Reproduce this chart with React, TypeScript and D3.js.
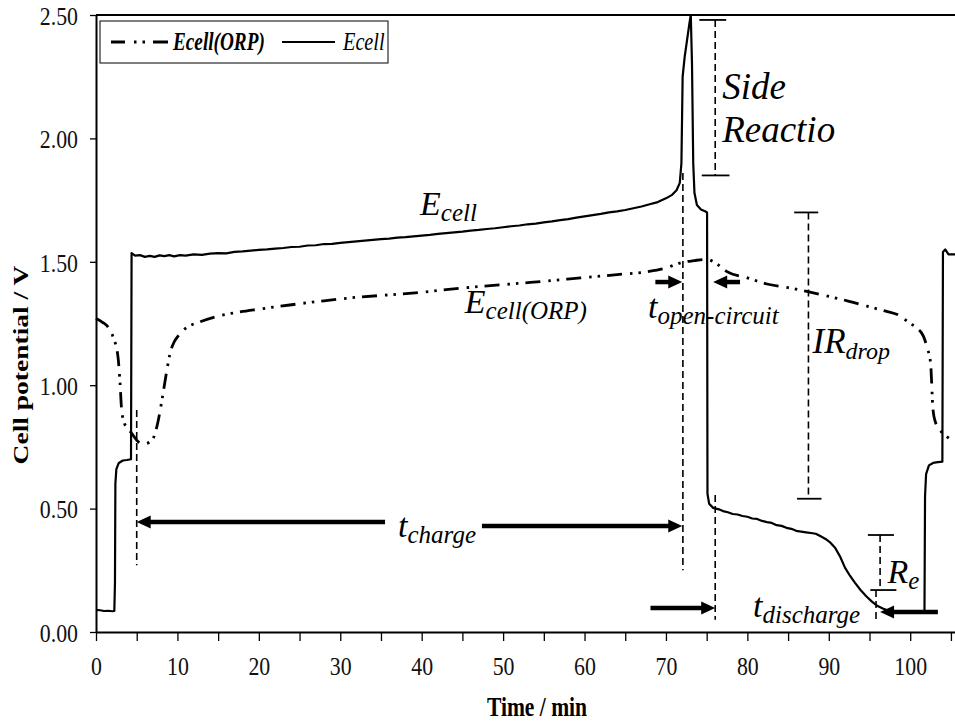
import { useEffect, useRef } from "react";
import * as d3 from "d3";

const WIDTH = 955;
const HEIGHT = 723;
const SERIF = "Liberation Serif";

// Ecell (solid) – time in min, potential in V
const timeEcell = [
  0, 0.5, 1.0, 1.5, 2.0, 2.25, 2.33, 2.38, 2.5, 2.8, 3.3, 3.8, 4.3, 4.37, 4.8, 5.4, 6, 6.6, 7.2, 7.8, 8.4, 9,
  9.6, 10.3, 11, 12, 13, 14, 15, 16, 17, 18, 19, 20, 21, 22, 23, 24, 25, 26, 27, 28, 29, 30, 31, 32, 33, 34,
  35, 36, 37, 38, 39, 40, 41, 42, 43, 44, 45, 46, 47, 48, 49, 50, 51, 52, 53, 54, 55, 56, 57, 58, 59, 60, 61,
  62, 63, 64, 65, 66, 67, 68, 69, 70, 70.7, 71.3, 71.7, 71.9, 72.05, 72.3, 72.6, 72.9, 73.05, 73.2, 73.35,
  73.5, 73.8, 74.3, 74.8, 75.05, 75.1, 75.3, 75.8, 76.5, 77, 77.6, 78.2, 78.8, 79.4, 80, 80.6, 81.2, 81.8,
  82.4, 83, 83.6, 84.2, 84.8, 85.4, 86, 86.6, 87.2, 87.8, 88.4, 89, 89.6, 90.2, 90.8, 91.4, 92, 92.6, 93.2,
  93.9, 94.6, 95.3, 96, 96.7, 97.4, 98, 99, 100, 101, 101.75, 101.82, 101.95, 102.3, 102.8, 103.4, 103.95,
  104.02, 104.3, 104.7, 105.5,
];
const ecell = [
  0.09, 0.088, 0.085, 0.086, 0.084, 0.085, 0.2, 0.6, 0.66, 0.685, 0.695, 0.697, 0.7, 1.535, 1.525, 1.527,
  1.52, 1.524, 1.52, 1.526, 1.523, 1.527, 1.522, 1.527, 1.525, 1.53, 1.528, 1.533, 1.535, 1.534, 1.54, 1.542,
  1.545, 1.548, 1.55, 1.553, 1.556, 1.56, 1.561, 1.566, 1.567, 1.572, 1.573, 1.577, 1.58, 1.583, 1.586,
  1.589, 1.592, 1.594, 1.598, 1.6, 1.603, 1.606, 1.609, 1.613, 1.616, 1.619, 1.622, 1.626, 1.629, 1.633,
  1.636, 1.64, 1.644, 1.647, 1.652, 1.655, 1.66, 1.664, 1.669, 1.673, 1.679, 1.684, 1.689, 1.694, 1.7,
  1.704, 1.71, 1.717, 1.724, 1.733, 1.742, 1.757, 1.77, 1.79, 1.82, 1.9, 2.25, 2.33, 2.4, 2.47, 2.5, 2.3,
  1.9, 1.78, 1.73, 1.712, 1.705, 1.7, 0.56, 0.52, 0.503, 0.497, 0.49, 0.485, 0.478, 0.476, 0.47, 0.467,
  0.46, 0.458, 0.45, 0.445, 0.442, 0.433, 0.43, 0.422, 0.418, 0.41, 0.407, 0.404, 0.401, 0.398, 0.388,
  0.377, 0.362, 0.34, 0.305, 0.26, 0.228, 0.2, 0.17, 0.145, 0.123, 0.105, 0.094, 0.086, 0.08, 0.079, 0.078,
  0.078, 0.078, 0.55, 0.64, 0.675, 0.685, 0.688, 0.69, 1.54, 1.55, 1.53, 1.53,
];

// Ecell(ORP) (dash-dot-dot)
const timeOrp = [
  0, 0.8, 1.5, 2.1, 2.7, 2.95, 3.15, 3.5, 3.8, 4.5, 5.2, 5.9, 6.6, 7.1, 7.6, 8.1, 8.7, 9.1, 9.6, 10.1, 11,
  12.8, 15, 17.7, 20, 23.8, 28, 32, 36, 39.2, 43, 47.2, 52, 56, 59.5, 64, 67.7, 70, 71.7, 73.5, 75, 76.3,
  77.5, 80, 82.4, 85, 87.3, 90, 92.5, 94.7, 97, 98.5, 100, 100.9, 101.6, 102.1, 102.5, 102.8, 103.1, 103.6,
  104.2, 105,
];
const ecellOrp = [
  1.27, 1.255, 1.235, 1.195, 1.115, 1.01, 0.9, 0.845, 0.83, 0.8, 0.77, 0.762, 0.77, 0.79, 0.85, 0.94, 1.06,
  1.13, 1.175, 1.2, 1.23, 1.257, 1.28, 1.297, 1.308, 1.325, 1.342, 1.356, 1.366, 1.374, 1.387, 1.4, 1.413,
  1.424, 1.435, 1.448, 1.46, 1.475, 1.495, 1.505, 1.51, 1.49, 1.46, 1.435, 1.41, 1.395, 1.38, 1.36, 1.34,
  1.32, 1.3, 1.285, 1.25, 1.23, 1.2, 1.15, 1.09, 0.9, 0.85, 0.82, 0.8, 0.78,
];

const yTicks = [0, 0.5, 1, 1.5, 2, 2.5];
const xTicks = [0, 5, 10, 15, 20, 25, 30, 35, 40, 45, 50, 55, 60, 65, 70, 75, 80, 85, 90, 95, 100, 105];
const xLabels = [0, 10, 20, 30, 40, 50, 60, 70, 80, 90, 100];

// annotations (data units)
const guides = [
  { t: 5.0, v0: 0.9, v1: 0.27 },
  { t: 72.08, v0: 1.86, v1: 0.25 },
  { t: 76.05, v0: 0.555, v1: 0.05 },
  { t: 95.8, v0: 0.17, v1: 0.036 },
];
const brackets = [
  { t: 76.05, v0: 2.48, v1: 1.85, top: [74.1, 77.4], bottom: [74.4, 77.8] },
  { t: 87.5, v0: 1.7, v1: 0.54, top: [85.75, 88.7], bottom: [86.1, 89.1] },
  { t: 96.3, v0: 0.393, v1: 0.17, top: [94.8, 98.0], bottom: [95.1, 98.3] },
];
const arrows = [
  { t0: 35.5, t1: 5.0, v: 0.446 },
  { t0: 47.4, t1: 72.0, v: 0.43 },
  { t0: 68.1, t1: 76.05, v: 0.097 },
  { t0: 103.4, t1: 96.3, v: 0.081 },
  { t0: 68.7, t1: 72.0, v: 1.418 },
  { t0: 79.1, t1: 75.8, v: 1.418 },
];
const labels = [
  { t: 39.8, v: 1.69, main: "E", sub: "cell", size: 34, subSize: 25 },
  { t: 45.3, v: 1.293, main: "E", sub: "cell(ORP)", size: 34, subSize: 25 },
  { t: 37.1, v: 0.385, main: "t", sub: "charge", size: 34, subSize: 25 },
  { t: 67.8, v: 1.272, main: "t", sub: "open-circuit", size: 34, subSize: 25 },
  { t: 88.0, v: 1.13, main: "IR", sub: "drop", size: 35, subSize: 24 },
  { t: 97.2, v: 0.199, main: "R", sub: "e", size: 34, subSize: 25 },
  { t: 80.7, v: 0.06, main: "t", sub: "discharge", size: 34, subSize: 25 },
  { t: 76.9, v: 2.16, main: "Side", sub: "", size: 37, subSize: 25 },
  { t: 76.9, v: 1.985, main: "Reactio", sub: "", size: 37, subSize: 25 },
];

const App = () => {
  const ref = useRef<SVGSVGElement>(null);

  useEffect(() => {
    const svg = d3.select(ref.current);
    svg.selectAll("*").remove();

    const x = d3.scaleLinear().domain([0, 105.5]).range([96, 955]);
    const y = d3.scaleLinear().domain([0, 2.5]).range([632, 15]);

    svg.append("rect").attr("width", WIDTH).attr("height", HEIGHT).attr("fill", "white");

    // top frame line
    svg
      .append("line")
      .attr("x1", x(0))
      .attr("x2", 955)
      .attr("y1", y(2.5))
      .attr("y2", y(2.5))
      .attr("stroke", "black")
      .attr("stroke-width", 2);

    // y axis
    const yAxis = svg
      .append("g")
      .attr("transform", `translate(${x(0)},0)`)
      .call(
        d3
          .axisLeft(y)
          .tickValues(yTicks)
          .tickSize(6)
          .tickSizeOuter(0)
          .tickFormat((d) => d3.format(".2f")(d as number))
      );
    yAxis.select(".domain").attr("stroke-width", 2);
    yAxis.selectAll(".tick line").attr("stroke-width", 1.3);
    yAxis
      .selectAll(".tick text")
      .attr("font-family", SERIF)
      .attr("font-size", 26)
      .attr("fill", "#111")
      .attr("x", -18 / 0.84)
      .attr("dy", "0.36em")
      .attr("transform", "scale(0.84,1)");

    // x axis
    const xAxis = svg
      .append("g")
      .attr("transform", `translate(0,${y(0)})`)
      .call(
        d3
          .axisBottom(x)
          .tickValues(xTicks)
          .tickSize(9)
          .tickSizeOuter(0)
          .tickPadding(15.5)
          .tickFormat((d) => (xLabels.includes(d as number) ? String(d) : ""))
      );
    xAxis.select(".domain").attr("stroke-width", 2);
    xAxis.selectAll(".tick line").attr("stroke-width", 1.3);
    xAxis
      .selectAll(".tick text")
      .attr("font-family", SERIF)
      .attr("font-size", 26)
      .attr("fill", "#111")
      .attr("transform", "scale(0.84,1)");

    // axis titles
    svg
      .append("text")
      .attr("transform", `translate(537,716) scale(0.77,1)`)
      .attr("text-anchor", "middle")
      .attr("font-family", SERIF)
      .attr("font-weight", "bold")
      .attr("font-size", 28)
      .text("Time / min");
    svg
      .append("text")
      .attr("transform", `translate(28,365) rotate(-90) scale(1,0.8)`)
      .attr("text-anchor", "middle")
      .attr("font-family", SERIF)
      .attr("font-weight", "bold")
      .attr("font-size", 27.5)
      .text("Cell potential / V");

    // series
    const ecellLine = d3
      .line<[number, number]>()
      .x((d) => x(d[0]))
      .y((d) => y(d[1]));
    const orpLine = d3
      .line<[number, number]>()
      .x((d) => x(d[0]))
      .y((d) => y(d[1]))
      .curve(d3.curveMonotoneX);

    const ecellData = timeEcell.map((t, i) => [t, ecell[i]] as [number, number]);
    const orpData = timeOrp.map((t, i) => [t, ecellOrp[i]] as [number, number]);

    const plot = svg.append("g");
    plot
      .append("path")
      .attr("d", orpLine(orpData))
      .attr("fill", "none")
      .attr("stroke", "black")
      .attr("stroke-width", 2.8)
      .attr("stroke-dasharray", "15 8 2.5 6 2.5 7");
    plot
      .append("path")
      .attr("d", ecellLine(ecellData))
      .attr("fill", "none")
      .attr("stroke", "black")
      .attr("stroke-width", 2.2)
      .attr("stroke-linejoin", "round");

    // dashed guide lines
    const ann = svg.append("g").attr("stroke", "black");
    ann
      .selectAll("line.guide")
      .data(guides)
      .join("line")
      .attr("class", "guide")
      .attr("x1", (d) => x(d.t))
      .attr("x2", (d) => x(d.t))
      .attr("y1", (d) => y(d.v0))
      .attr("y2", (d) => y(d.v1))
      .attr("stroke-width", 1.6)
      .attr("stroke-dasharray", "7 4");

    // brackets
    const br = ann.selectAll("g.bracket").data(brackets).join("g").attr("class", "bracket");
    br.append("line")
      .attr("x1", (d) => x(d.t))
      .attr("x2", (d) => x(d.t))
      .attr("y1", (d) => y(d.v0))
      .attr("y2", (d) => y(d.v1))
      .attr("stroke-width", 1.6)
      .attr("stroke-dasharray", "7 4");
    br.append("line")
      .attr("x1", (d) => x(d.top[0]))
      .attr("x2", (d) => x(d.top[1]))
      .attr("y1", (d) => y(d.v0))
      .attr("y2", (d) => y(d.v0))
      .attr("stroke-width", 1.8);
    br.append("line")
      .attr("x1", (d) => x(d.bottom[0]))
      .attr("x2", (d) => x(d.bottom[1]))
      .attr("y1", (d) => y(d.v1))
      .attr("y2", (d) => y(d.v1))
      .attr("stroke-width", 1.8);

    // arrows
    const headLen = 14;
    const headW = 13;
    const ar = svg.append("g").selectAll("g").data(arrows).join("g");
    ar.append("line")
      .attr("x1", (d) => x(d.t0))
      .attr("x2", (d) => x(d.t1) - Math.sign(x(d.t1) - x(d.t0)) * (headLen - 2))
      .attr("y1", (d) => y(d.v))
      .attr("y2", (d) => y(d.v))
      .attr("stroke", "black")
      .attr("stroke-width", 4.5);
    ar.append("path")
      .attr("d", (d) => {
        const tip = x(d.t1);
        const dir = Math.sign(x(d.t1) - x(d.t0));
        const yy = y(d.v);
        return `M${tip},${yy} L${tip - dir * headLen},${yy - headW / 2} L${tip - dir * headLen},${yy + headW / 2} Z`;
      })
      .attr("fill", "black");

    // labels with subscripts
    const lt = svg
      .append("g")
      .attr("font-family", SERIF)
      .attr("font-style", "italic")
      .selectAll("text")
      .data(labels)
      .join("text")
      .attr("x", (d) => x(d.t))
      .attr("y", (d) => y(d.v));
    lt.append("tspan")
      .attr("font-size", (d) => d.size)
      .text((d) => d.main);
    lt.filter((d) => d.sub !== "")
      .append("tspan")
      .attr("font-size", (d) => d.subSize)
      .attr("dy", 6)
      .text((d) => d.sub);

    // legend
    const lg = svg.append("g");
    lg.append("rect")
      .attr("x", 100)
      .attr("y", 21)
      .attr("width", 288)
      .attr("height", 42)
      .attr("fill", "white")
      .attr("stroke", "black")
      .attr("stroke-width", 1);
    lg.append("line")
      .attr("x1", 111)
      .attr("x2", 168)
      .attr("y1", 42)
      .attr("y2", 42)
      .attr("stroke", "black")
      .attr("stroke-width", 2.8)
      .attr("stroke-dasharray", "14 9 2.5 6 2.5 8 16");
    lg.append("text")
      .attr("transform", "translate(173,50) scale(0.74,1)")
      .attr("font-family", SERIF)
      .attr("font-style", "italic")
      .attr("font-weight", "bold")
      .attr("font-size", 26)
      .text("Ecell(ORP)");
    lg.append("line")
      .attr("x1", 282)
      .attr("x2", 335)
      .attr("y1", 42)
      .attr("y2", 42)
      .attr("stroke", "black")
      .attr("stroke-width", 2);
    lg.append("text")
      .attr("transform", "translate(343,50) scale(0.78,1)")
      .attr("font-family", SERIF)
      .attr("font-style", "italic")
      .attr("font-size", 26)
      .text("Ecell");
  }, []);

  return (
    <div style={{ position: "absolute", left: 0, top: 0 }}>
      <svg ref={ref} width={WIDTH} height={HEIGHT} style={{ display: "block" }} />
    </div>
  );
};

export default App;
